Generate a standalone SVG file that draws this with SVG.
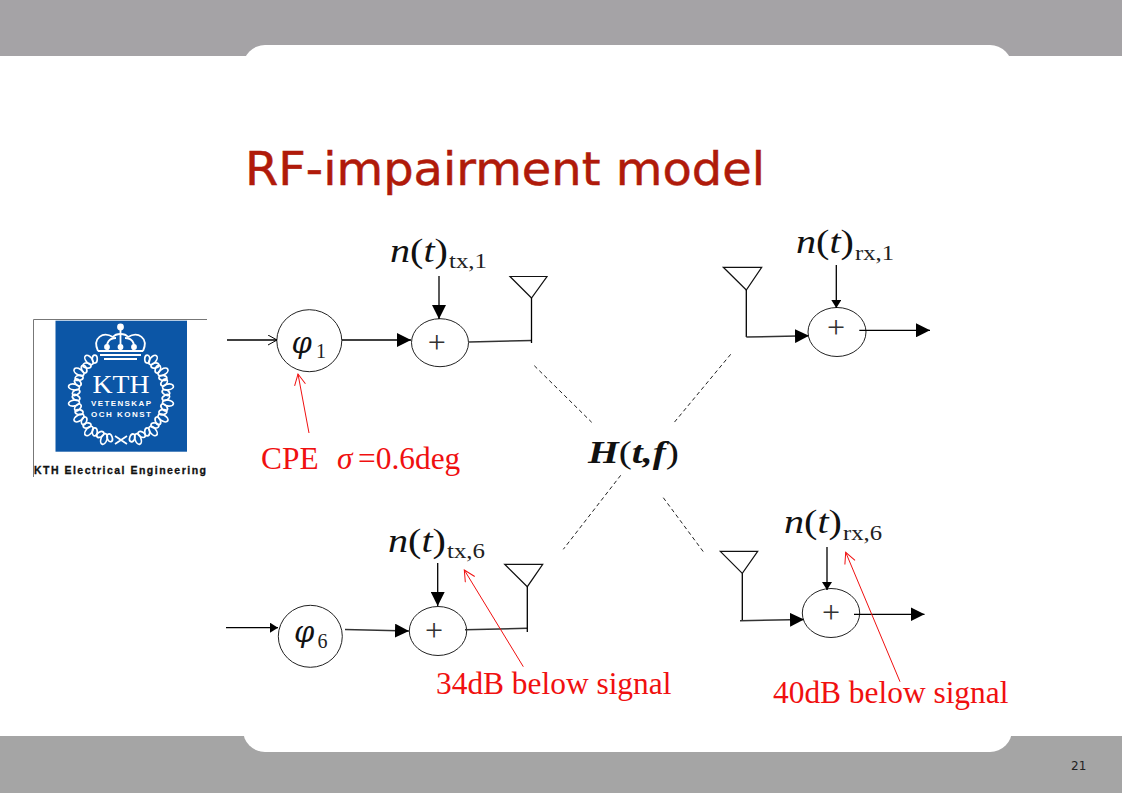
<svg xmlns="http://www.w3.org/2000/svg" xmlns:xlink="http://www.w3.org/1999/xlink" width="1122" height="793" viewBox="0 0 1122 793">
<style>
.ln{fill:none;stroke:#000;stroke-width:1.3}
.gr{fill:none;stroke:#333;stroke-width:1.5}
.nd{fill:#fff;stroke:#222;stroke-width:1}
.ant{fill:#fff;stroke:#111;stroke-width:1.2}
.dash{fill:none;stroke:#222;stroke-width:1;stroke-dasharray:4 3}
.red{fill:none;stroke:#f01010;stroke-width:1}
.m{font-family:"Liberation Serif",serif;font-style:italic;fill:#111;font-size:34px}
.p{font-style:normal}
.phi{font-family:"DejaVu Serif",serif;font-style:italic;fill:#111;font-size:29px}
.sub{font-family:"Liberation Serif",serif;font-size:20px;fill:#222}
.plus{font-family:"Liberation Serif",serif;font-size:32px;text-anchor:middle;fill:#333}
.lab{font-family:"Liberation Serif",serif;font-size:31.400px;fill:#f01010}
.w{fill:none;stroke:#fff;stroke-width:1.700}
</style>
<defs>
<marker id="ah" markerUnits="userSpaceOnUse" markerWidth="16" markerHeight="14" refX="14" refY="7" orient="auto"><path d="M0 0L14 7L0 14z" fill="#000"/></marker>
<marker id="as" markerUnits="userSpaceOnUse" markerWidth="10" markerHeight="10" refX="8" refY="5" orient="auto"><path d="M0 0L8 5L0 10z" fill="#000"/></marker>
<marker id="ao" markerUnits="userSpaceOnUse" markerWidth="12" markerHeight="12" refX="10" refY="5.500" orient="auto"><path d="M1 0.500L10 5.500L1 10.500" fill="none" stroke="#000" stroke-width="1"/></marker>
<marker id="ar" markerUnits="userSpaceOnUse" markerWidth="14" markerHeight="14" refX="12" refY="6" orient="auto"><path d="M1 0.500L12 6L1 11.500" fill="none" stroke="#f01010" stroke-width="1"/></marker>
<g id="leaf"><ellipse cx="0" cy="0" rx="3" ry="5.500" class="w"/><ellipse cx="-5" cy="3" rx="2.500" ry="4" class="w" transform="rotate(-40 -5 3)"/><ellipse cx="5" cy="3" rx="2.500" ry="4" class="w" transform="rotate(40 5 3)"/></g>
</defs>

<g id="background">
<rect x="0" y="0" width="1122" height="793" fill="#fff"/>
<rect x="0" y="0" width="1122" height="56" fill="#a5a3a6"/>
<rect x="0" y="736" width="1122" height="57" fill="#a5a5a5"/>
<rect x="243" y="45" width="769" height="707" rx="22" fill="#fff"/>
<text x="245" y="185" font-family="'DejaVu Sans',sans-serif" font-size="46" fill="#b01a0a" stroke="#b01a0a" stroke-width="0.500" textLength="520" lengthAdjust="spacingAndGlyphs">RF-impairment model</text>
<text x="1071" y="770" font-family="'DejaVu Sans',sans-serif" font-size="12" fill="#222">21</text>
</g>

<g id="logo">
<path d="M207 319.500H33.500V477" fill="none" stroke="#777" stroke-width="1"/>
<rect x="55.500" y="320.700" width="131.500" height="131" fill="#0c56a6"/>
<g id="crown" fill="none" stroke="#fff" stroke-width="1.800">
<circle cx="120.500" cy="327" r="2.500" fill="#fff"/>
<path d="M120.500 329V352"/>
<path d="M98 351C92 338 103 331 113 337C116 333 125 333 128 337C138 331 149 338 143 351"/>
<path d="M108 351C105 342 110 338 116 338M133 351C136 342 131 338 125 338"/>
<path d="M98 351H143M100 355H141M104 359H137" stroke-width="2"/>
<circle cx="107" cy="347" r="2" fill="#fff"/><circle cx="120.500" cy="347" r="2" fill="#fff"/><circle cx="134" cy="347" r="2" fill="#fff"/>
</g>
<g id="wreath">
<use xlink:href="#leaf" href="#leaf" transform="translate(153 360) rotate(40)"/>
<use xlink:href="#leaf" href="#leaf" transform="translate(163 372) rotate(60)"/>
<use xlink:href="#leaf" href="#leaf" transform="translate(168 387) rotate(80)"/>
<use xlink:href="#leaf" href="#leaf" transform="translate(168 403) rotate(100)"/>
<use xlink:href="#leaf" href="#leaf" transform="translate(163 418) rotate(120)"/>
<use xlink:href="#leaf" href="#leaf" transform="translate(153 431) rotate(140)"/>
<use xlink:href="#leaf" href="#leaf" transform="translate(138 439) rotate(160)"/>
<use xlink:href="#leaf" href="#leaf" transform="translate(89 360) rotate(-40)"/>
<use xlink:href="#leaf" href="#leaf" transform="translate(79 372) rotate(-60)"/>
<use xlink:href="#leaf" href="#leaf" transform="translate(74 387) rotate(-80)"/>
<use xlink:href="#leaf" href="#leaf" transform="translate(74 403) rotate(-100)"/>
<use xlink:href="#leaf" href="#leaf" transform="translate(79 418) rotate(-120)"/>
<use xlink:href="#leaf" href="#leaf" transform="translate(89 431) rotate(-140)"/>
<use xlink:href="#leaf" href="#leaf" transform="translate(104 439) rotate(-160)"/>
<path d="M115 436L127 444M127 436L115 444" class="w"/>
</g>
<text x="121" y="392.500" font-family="'Liberation Serif',serif" font-size="26" fill="#fff" text-anchor="middle" textLength="57" lengthAdjust="spacingAndGlyphs">KTH</text>
<text x="121" y="406" font-family="'Liberation Sans',sans-serif" font-size="8" font-weight="bold" fill="#fff" text-anchor="middle" textLength="60">VETENSKAP</text>
<text x="121" y="417" font-family="'Liberation Sans',sans-serif" font-size="8" font-weight="bold" fill="#fff" text-anchor="middle" textLength="60">OCH KONST</text>
<text x="34" y="474" font-family="'Liberation Sans',sans-serif" font-size="10.500" font-weight="bold" fill="#111" stroke="#111" stroke-width="0.300" textLength="172">KTH Electrical Engineering</text>
</g>

<g id="phi1"><ellipse class="nd" cx="309.300" cy="340.700" rx="32.500" ry="31"/><text class="phi" x="291.500" y="353">φ</text><text class="sub" x="316" y="358">1</text></g>
<g id="phi6"><ellipse class="nd" cx="310.300" cy="636.300" rx="32" ry="31"/><text class="phi" x="294" y="642">φ</text><text class="sub" x="317.500" y="648">6</text></g>
<g id="sum-tx1"><ellipse class="nd" cx="440" cy="342.700" rx="28.500" ry="24"/><text class="plus" x="436.700" y="352.500">+</text></g>
<g id="sum-tx6"><ellipse class="nd" cx="438" cy="631" rx="28.700" ry="24.500"/><text class="plus" x="434" y="640.800">+</text></g>
<g id="sum-rx1"><ellipse class="nd" cx="837" cy="332" rx="29" ry="24.500"/><text class="plus" x="836" y="338">+</text></g>
<g id="sum-rx6"><ellipse class="nd" cx="831" cy="613" rx="28.700" ry="24.500"/><text class="plus" x="831" y="623">+</text></g>
<g id="ant-tx1"><path class="ant" d="M510 276.500H547L531.500 298z"/></g>
<g id="ant-tx6"><path class="ant" d="M504.700 564.300H542.700L527.300 586.700z"/></g>
<g id="ant-rx1"><path class="ant" d="M723.300 267.300H761.700L746.300 290z"/></g>
<g id="ant-rx6"><path class="ant" d="M720.300 551.300H757.700L742.300 573.300z"/></g>

<g id="connectors">
<path class="ln" d="M227 340H277" marker-end="url(#ao)"/>
<path class="ln" d="M342 340H411" marker-end="url(#ah)"/>
<path class="ln" d="M439 276V319" marker-end="url(#ah)"/>
<path class="gr" d="M469 342L531.500 340.500"/>
<path class="ln" d="M531.500 298V343"/>
<path class="ln" d="M226 627.700H278" stroke-width="2" marker-end="url(#as)"/>
<path class="gr" d="M345 629.500L409 631" marker-end="url(#ah)"/>
<path class="ln" d="M437.700 563V606" marker-end="url(#ah)"/>
<path class="gr" d="M465 629.700L527.300 628.300"/>
<path class="ln" d="M527.300 586.700V632"/>
<path class="ln" d="M746.300 290V337"/>
<path class="gr" d="M746.300 337L809 335.800" marker-end="url(#ah)"/>
<path class="ln" d="M836.300 265V308" marker-end="url(#as)"/>
<path class="ln" d="M859.300 330.300H930" marker-end="url(#ah)"/>
<path class="ln" d="M742.300 573.300V620.700"/>
<path class="gr" d="M740 620.700L804 619.600" marker-end="url(#ah)"/>
<path class="ln" d="M827 547V590" marker-end="url(#as)"/>
<path class="ln" d="M854 614.300H924.500" marker-end="url(#ah)"/>
<path class="dash" d="M534.300 365.700L591.700 422.300"/>
<path class="dash" d="M730.700 354.300L674.300 422.300"/>
<path class="dash" d="M620.700 475.300L563.300 549.300"/>
<path class="dash" d="M663.300 497.700L703.300 551.700"/>
<path class="red" d="M309 433L298 374" marker-end="url(#ar)"/>
<path class="red" d="M523.300 666.700L464.300 570" marker-end="url(#ar)"/>
<path class="red" d="M900 681.700L845.700 552.300" marker-end="url(#ar)"/>
</g>

<g id="noise-tx1"><text class="m" x="390" y="262" textLength="58" lengthAdjust="spacingAndGlyphs">n<tspan class="p">(</tspan>t<tspan class="p">)</tspan></text><text class="sub" x="449" y="268" textLength="38" lengthAdjust="spacingAndGlyphs">tx,1</text></g>
<g id="noise-tx6"><text class="m" x="388" y="552" textLength="58" lengthAdjust="spacingAndGlyphs">n<tspan class="p">(</tspan>t<tspan class="p">)</tspan></text><text class="sub" x="447" y="558" textLength="38" lengthAdjust="spacingAndGlyphs">tx,6</text></g>
<g id="noise-rx1"><text class="m" x="796" y="253" textLength="58" lengthAdjust="spacingAndGlyphs">n<tspan class="p">(</tspan>t<tspan class="p">)</tspan></text><text class="sub" x="855" y="260" textLength="39" lengthAdjust="spacingAndGlyphs">rx,1</text></g>
<g id="noise-rx6"><text class="m" x="784" y="533" textLength="58" lengthAdjust="spacingAndGlyphs">n<tspan class="p">(</tspan>t<tspan class="p">)</tspan></text><text class="sub" x="843" y="540" textLength="39" lengthAdjust="spacingAndGlyphs">rx,6</text></g>
<g id="channel"><text class="m" x="588" y="463" textLength="91" lengthAdjust="spacingAndGlyphs" style="font-size:32px"><tspan font-weight="bold">H</tspan><tspan class="p">(</tspan><tspan font-weight="bold">t,f</tspan><tspan class="p">)</tspan></text></g>
<g id="label-cpe"><text class="lab" x="261" y="469" xml:space="preserve">CPE  <tspan x="337" font-style="italic">σ</tspan><tspan x="358">=0.6deg</tspan></text></g>
<g id="label-34"><text class="lab" x="436" y="694">34dB below signal</text></g>
<g id="label-40"><text class="lab" x="773" y="703">40dB below signal</text></g>
</svg>
